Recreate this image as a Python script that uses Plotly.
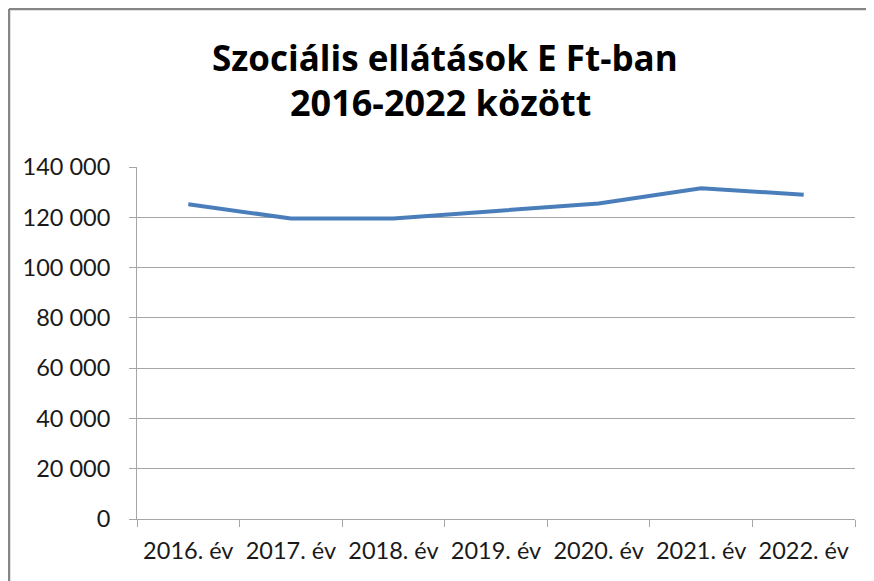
import plotly.graph_objects as go

categories = ["2016. év", "2017. év", "2018. év", "2019. év", "2020. év", "2021. év", "2022. év"]
values = [125200, 119500, 119500, 122500, 125500, 131500, 129000]
y_ticks = [0, 20000, 40000, 60000, 80000, 100000, 120000, 140000]
title_lines = ["Szociális ellátások E Ft-ban", "2016-2022 között"]

OFF = 8  # page body margin
W, H = 874 - OFF, 581 - OFF
L, R, T, B = 137 - OFF, 855 - OFF, 167 - OFF, 519 - OFF

FONT = "Lato, Calibri, Carlito, sans-serif"
TFONT = "'Open Sans', Calibri, sans-serif"
GRID = "#a6a6a6"

fig = go.Figure()
fig.add_trace(go.Scatter(
    x=categories, y=values, mode="lines",
    line=dict(color="#4a7ebb", width=4),
    hoverinfo="x+y", showlegend=False,
))

def px_x(p):
    return (p - OFF - L) / (R - L)

def px_y(p):
    return (B - (p - OFF)) / (B - T)

shapes = [
    dict(type="line", xref="paper", yref="paper",
         x0=px_x(9), x1=px_x(9), y0=px_y(700), y1=px_y(9),
         line=dict(color="#868686", width=2.5)),
    dict(type="line", xref="paper", yref="paper",
         x0=px_x(9), x1=px_x(1000), y0=px_y(9), y1=px_y(9),
         line=dict(color="#868686", width=2.5)),
]

annotations = [
    dict(text=title_lines[0], xref="paper", yref="paper",
         x=px_x(445), y=px_y(57), showarrow=False,
         xanchor="center", yanchor="middle",
         font=dict(family=TFONT, size=35, color="#000000", weight="bold")),
    dict(text=title_lines[1], xref="paper", yref="paper",
         x=px_x(440), y=px_y(102), showarrow=False,
         xanchor="center", yanchor="middle",
         font=dict(family=TFONT, size=36, color="#000000", weight="bold")),
]

fig.update_layout(
    width=W, height=H,
    margin=dict(l=L, r=W - R, t=T, b=H - B, pad=0),
    paper_bgcolor="#ffffff", plot_bgcolor="#ffffff",
    separators=", ",
    shapes=shapes, annotations=annotations,
    font=dict(family=FONT, size=23, color="#1a1a1a"),
    xaxis=dict(
        type="category", tickson="boundaries",
        showgrid=False, showline=True, linecolor=GRID, linewidth=1,
        ticks="outside", ticklen=7, tickcolor=GRID, tickwidth=1,
        ticklabelstandoff=11, range=[-0.5, len(categories) - 0.5],
        tickfont=dict(family=FONT, size=23.5, color="#1a1a1a"),
        zeroline=False,
    ),
    yaxis=dict(
        range=[0, 140000], tickvals=y_ticks, tickformat=",d",
        showgrid=True, gridcolor=GRID, gridwidth=1,
        showline=True, linecolor=GRID, linewidth=1,
        ticks="outside", ticklen=7, tickcolor=GRID, tickwidth=1,
        ticklabelstandoff=14,
        tickfont=dict(family=FONT, size=23.5, color="#1a1a1a"),
        zeroline=False,
    ),
)

fig.write_html("out.html")
